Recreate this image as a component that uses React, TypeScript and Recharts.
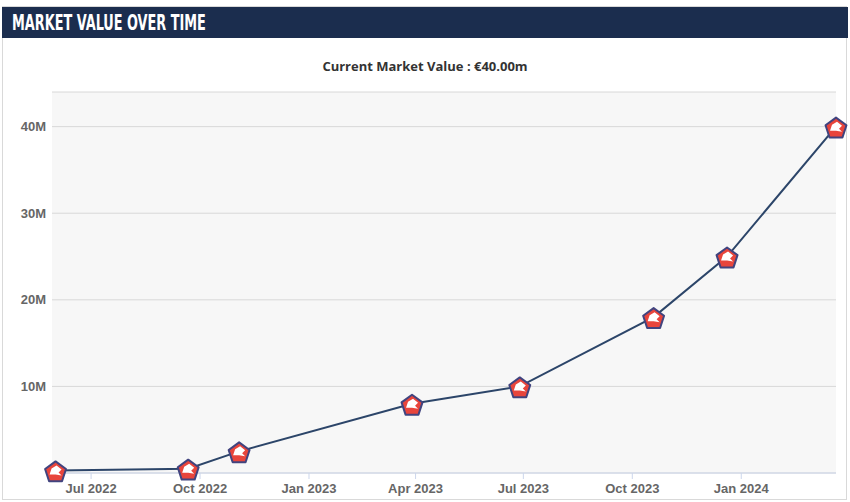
import React from 'react';
import { LineChart, Line, XAxis, YAxis, CartesianGrid } from 'recharts';

// market value history (dates of valuation, values in millions of euro)
const dates = ['2022-06-01', '2022-09-21', '2022-11-03', '2023-03-29', '2023-06-28', '2023-10-19', '2023-12-20', '2024-03-21'];
const values = [0.3, 0.5, 2.5, 8, 10, 18, 25, 40];

const tickDates = ['2022-07-01', '2022-10-01', '2023-01-01', '2023-04-01', '2023-07-01', '2023-10-01', '2024-01-01'];
const yTicks = [10, 20, 30, 40];
const monthNames = ['Jan', 'Feb', 'Mar', 'Apr', 'May', 'Jun', 'Jul', 'Aug', 'Sep', 'Oct', 'Nov', 'Dec'];

const DAY = 86400000;
const toTime = (s: string) => new Date(s + 'T00:00:00Z').getTime();

const data = dates.map((d, i) => ({ t: toTime(d), v: values[i] }));
const xTicks = tickDates.map(toTime);

const fmtDate = (t: number) => {
  const d = new Date(t);
  return `${monthNames[d.getUTCMonth()]} ${d.getUTCFullYear()}`;
};

const tickStyle = { fill: '#666666', fontSize: 13, fontFamily: "'Liberation Sans', Arial, sans-serif", fontWeight: 'bold' };

// club crest style marker
const CrestDot = (props: any) => {
  const { cx, cy } = props;
  if (cx == null || cy == null) return null;
  const r = 11;
  const c = cy + 2;
  const pts = [-90, -18, 54, 126, 198]
    .map((a) => {
      const rad = (a * Math.PI) / 180;
      return `${cx + r * Math.cos(rad)},${c + r * Math.sin(rad)}`;
    })
    .join(' ');
  return (
    <g>
      <polygon points={pts} fill="#e8453c" stroke="#41447f" strokeWidth={2} strokeLinejoin="round" />
      <path
        d={`M${cx - 6},${c + 2} L${cx - 4},${c - 4} L${cx + 1},${c - 7} L${cx + 6},${c - 3} L${cx + 3},${c} L${cx + 6},${c + 3} L${cx},${c + 2} Z`}
        fill="#ffffff"
      />
    </g>
  );
};

export default function App() {
  return (
    <div
      style={{
        position: 'absolute',
        left: 0,
        top: 0,
        width: 850,
        height: 502,
        background: '#ffffff',
        overflow: 'hidden',
      }}
    >
      <div
        style={{
          position: 'absolute',
          left: 2,
          top: 6,
          width: 845,
          height: 494,
          border: '1px solid #d9d9d9',
          boxSizing: 'border-box',
        }}
      />
      <div
        style={{
          position: 'absolute',
          left: 2,
          top: 7,
          width: 846,
          height: 31,
          background: '#1b2d4e',
          color: '#ffffff',
          fontFamily: "'DejaVu Sans Condensed', 'Liberation Sans Narrow', sans-serif",
          fontWeight: 'bold',
          fontSize: 22,
          lineHeight: '31px',
          paddingLeft: 10,
          boxSizing: 'border-box',
          whiteSpace: 'nowrap',
        }}
      >
        <span style={{ display: 'inline-block', transform: 'scaleX(0.65)', transformOrigin: 'left center' }}>
          MARKET VALUE OVER TIME
        </span>
      </div>
      <div
        style={{
          position: 'absolute',
          left: 0,
          top: 57,
          width: 850,
          textAlign: 'center',
          fontFamily: "'Open Sans', sans-serif",
          fontWeight: 'bold',
          fontSize: 13,
          color: '#333333',
        }}
      >
        Current Market Value : €40.00m
      </div>
      <div style={{ position: 'absolute', left: 0, top: 0 }}>
        <LineChart width={850} height={502} data={data} margin={{ top: 92, right: 14, bottom: 0, left: 0 }}>
          <CartesianGrid vertical={false} fill="#f7f7f7" stroke="#d8d8d8" />
          <XAxis
            dataKey="t"
            type="number"
            scale="time"
            domain={[data[0].t - 3 * DAY, data[data.length - 1].t]}
            ticks={xTicks}
            tickFormatter={fmtDate}
            height={29}
            stroke="#ccd6eb"
            tickSize={6}
            tickMargin={5}
            tick={tickStyle}
          />
          <YAxis
            type="number"
            domain={[0, 44]}
            ticks={yTicks}
            tickFormatter={(v: number) => `${v}M`}
            width={52}
            axisLine={false}
            tickLine={false}
            tickSize={0}
            tickMargin={6}
            tick={tickStyle}
          />
          <Line
            type="linear"
            dataKey="v"
            stroke="#2c4569"
            strokeWidth={2}
            dot={<CrestDot />}
            activeDot={false}
            isAnimationActive={false}
          />
        </LineChart>
      </div>
    </div>
  );
}
